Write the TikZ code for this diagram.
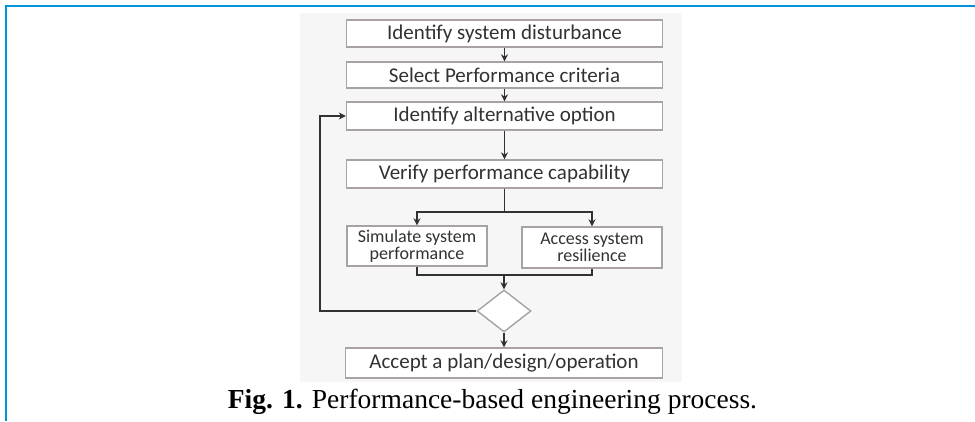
\documentclass[tikz,border=0pt]{standalone}
\usepackage{fontspec}
\setmainfont{Liberation Serif}
\newfontfamily\boxfont{Carlito}
\usetikzlibrary{shapes.geometric,arrows.meta}

\definecolor{framblue}{RGB}{0,148,218}
\definecolor{boxgray}{RGB}{168,162,162}
\definecolor{txtgray}{RGB}{50,50,50}
\definecolor{bggray}{RGB}{246,246,246}

\tikzset{
  stepbox/.style={draw=boxgray, line width=1.4pt, fill=white, inner sep=0pt,
    text=txtgray, font=\boxfont\fontsize{21}{22}\selectfont, align=center},
  smallbox/.style={stepbox, font=\boxfont\fontsize{18}{16.5}\selectfont},
  choice/.style={diamond, draw=boxgray, line width=1.4pt, fill=white, inner sep=0pt,
    minimum width=54pt, minimum height=42pt},
  flow/.style={draw=txtgray, line width=1.4pt, -{Stealth[length=7pt,width=7pt]}},
  link/.style={draw=txtgray, line width=1.4pt}
}

\begin{document}
\begin{tikzpicture}[x=1pt,y=-1pt]
\useasboundingbox (0,0) rectangle (975,421);
\fill[white] (0,0) rectangle (975,421);
\fill[bggray] (300,13) rectangle (682,382);
\draw[framblue, line width=2pt] (975,6) -- (6,6) -- (6,421);

% process steps
\node[stepbox, minimum width=316pt, minimum height=27pt] (dist) at (504.5,33.5) {Identify system disturbance};
\node[stepbox, minimum width=316pt, minimum height=26pt] (crit) at (504.5,75) {Select Performance criteria};
\node[stepbox, minimum width=316pt, minimum height=28pt] (alt) at (504.5,116) {Identify alternative option};
\node[stepbox, minimum width=316pt, minimum height=28pt] (verif) at (504.5,174) {Verify performance capability};
\node[smallbox, minimum width=140pt, minimum height=40pt] (sim) at (417,246) {Simulate system\\performance};
\node[smallbox, minimum width=140pt, minimum height=41pt] (resil) at (592,247.5) {Access system\\resilience};
\node[choice] (check) at (504,311) {};
\node[stepbox, minimum width=317pt, minimum height=30pt] (accept) at (504,363) {Accept a plan/design/operation};

\coordinate (split) at (504.5,212);
\coordinate (merge) at (504,275);
\coordinate (loop) at (320,0);

% connectors
\draw[flow] (dist) -- (crit);
\draw[flow] (crit) -- (alt);
\draw[flow] (alt) -- (verif);
\draw[link] (verif) -- (split);
\draw[flow] (split) -| (sim.north);
\draw[flow] (split) -| (resil.north);
\draw[link] (sim.south) |- (merge) -| (resil.south);
\draw[flow] (merge) -- (check.north);
\draw[flow] (check.west) -- (check.west -| loop) |- (alt.west);
\draw[flow] (check.south) -- (accept.north);

\node[font=\fontsize{27.5}{29}\selectfont, anchor=base] (capt) at (492.5,408) {\textbf{Fig. 1.} Performance-based engineering process.};
\end{tikzpicture}
\end{document}
